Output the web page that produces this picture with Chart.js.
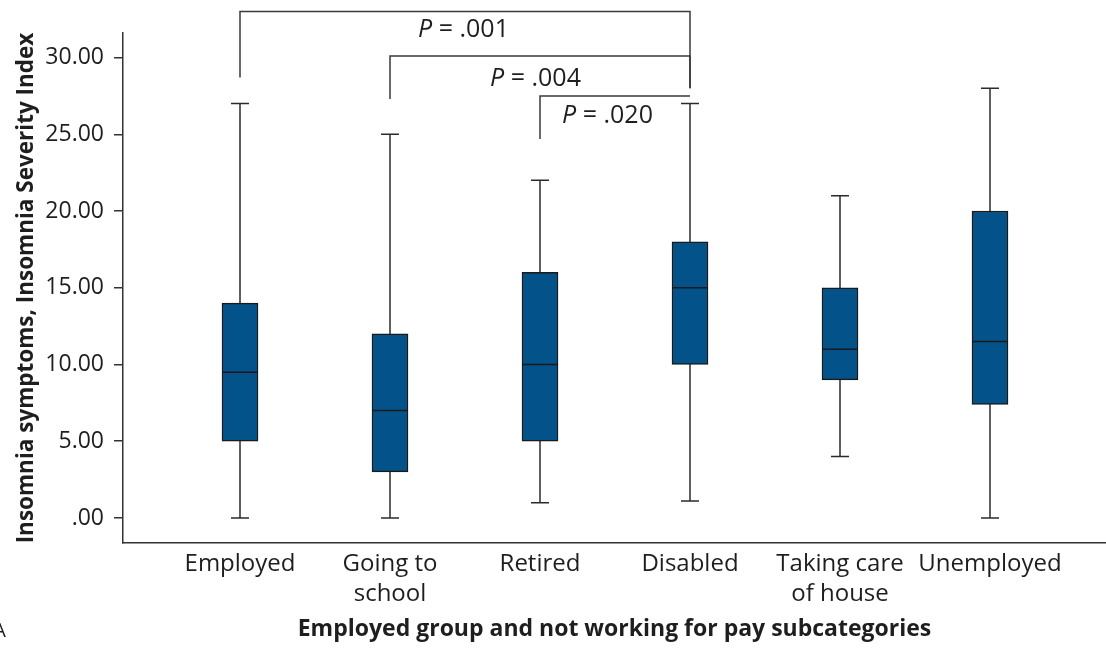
<!DOCTYPE html>
<html>
<head>
<meta charset="utf-8">
<script src="https://cdn.jsdelivr.net/npm/chart.js@4/dist/chart.umd.min.js"></script>
<style>
  html, body { margin: 0; padding: 0; background: #fff; }
  #wrap { width: 1106px; height: 648px; position: relative; }
</style>
</head>
<body>
<div id="wrap"><canvas id="box-chart"></canvas></div>
<script>
// data
const categories = [["Employed"], ["Going to", "school"], ["Retired"], ["Disabled"], ["Taking care", "of house"], ["Unemployed"]];
const whiskerLow = [0, 0, 1, 1.1, 4, 0];
const q1 = [5, 3, 5, 10, 9, 7.4];
const median = [9.5, 7, 10, 15, 11, 11.5];
const q3 = [14, 12, 16, 18, 15, 20];
const whiskerHigh = [27, 25, 22, 27, 21, 28];
const yTicks = [0, 5, 10, 15, 20, 25, 30];

// significance brackets (category numbers and heights in y units)
const pValues = [".001", ".004", ".020"];
const bracketFrom = [1, 2, 3];
const bracketTo = [4, 4, 4];
const bracketTop = [33, 30.1, 27.5];
const legFromBottom = [28.7, 27.3, 24.7];
const legToBottom = [28, 28, 27.5];
const pLabelX = [2.49, 2.97, 3.45];
const pLabelY = [31.8, 28.6, 26.2];

const FONT = "'Open Sans', 'Noto Sans', sans-serif";
Chart.defaults.font.family = FONT;
Chart.defaults.color = "#1e1e1e";

// whiskers + caps behind the boxes, medians on top
const boxPlotParts = {
  id: "boxPlotParts",
  beforeDatasetsDraw(chart) {
    const { ctx, scales: { x, y } } = chart;
    ctx.save();
    ctx.strokeStyle = "#2b2b2b";
    ctx.lineWidth = 1.5;
    for (let i = 0; i < categories.length; i++) {
      const cx = x.getPixelForValue(i + 1);
      const lo = y.getPixelForValue(whiskerLow[i]);
      const hi = y.getPixelForValue(whiskerHigh[i]);
      ctx.beginPath();
      ctx.moveTo(cx, lo); ctx.lineTo(cx, hi);
      ctx.moveTo(cx - 9, lo); ctx.lineTo(cx + 9, lo);
      ctx.moveTo(cx - 9, hi); ctx.lineTo(cx + 9, hi);
      ctx.stroke();
    }
    ctx.restore();
  },
  afterDatasetsDraw(chart) {
    const { ctx, scales: { y } } = chart;
    const meta = chart.getDatasetMeta(0);
    ctx.save();
    ctx.strokeStyle = "#1a1a1a";
    ctx.lineWidth = 1.5;
    meta.data.forEach((bar, i) => {
      const half = bar.width / 2;
      const my = y.getPixelForValue(median[i]);
      ctx.beginPath();
      ctx.moveTo(bar.x - half, my); ctx.lineTo(bar.x + half, my);
      ctx.stroke();
    });
    ctx.restore();
  }
};

// P-value brackets and the cut-off panel letter
const annotations = {
  id: "annotations",
  afterDraw(chart) {
    const { ctx, scales: { x, y } } = chart;
    ctx.save();
    ctx.strokeStyle = "#3a3a3a";
    ctx.lineWidth = 1.5;
    for (let i = 0; i < pValues.length; i++) {
      const x1 = x.getPixelForValue(bracketFrom[i]);
      const x2 = x.getPixelForValue(bracketTo[i]);
      const top = y.getPixelForValue(bracketTop[i]);
      ctx.beginPath();
      ctx.moveTo(x1, y.getPixelForValue(legFromBottom[i]));
      ctx.lineTo(x1, top);
      ctx.lineTo(x2, top);
      ctx.lineTo(x2, y.getPixelForValue(legToBottom[i]));
      ctx.stroke();

      // italic P, regular rest
      const px = x.getPixelForValue(pLabelX[i]);
      const py = y.getPixelForValue(pLabelY[i]);
      const italic = "italic 25px " + FONT;
      const normal = "25px " + FONT;
      ctx.font = italic;
      const wP = ctx.measureText("P").width;
      ctx.font = normal;
      const rest = " = " + pValues[i];
      const wR = ctx.measureText(rest).width;
      const sx = px - (wP + wR) / 2;
      ctx.fillStyle = "#1e1e1e";
      ctx.textBaseline = "middle";
      ctx.textAlign = "left";
      ctx.font = italic;
      ctx.fillText("P", sx, py);
      ctx.font = normal;
      ctx.fillText(rest, sx + wP, py);
    }
    ctx.font = "20px " + FONT;
    ctx.textAlign = "right";
    ctx.textBaseline = "alphabetic";
    ctx.fillText("A", 6, 637);
    ctx.restore();
  }
};

const ctx = document.getElementById("box-chart").getContext("2d");
new Chart(ctx, {
  type: "bar",
  data: {
    datasets: [{
      data: categories.map((c, i) => ({ x: i + 1, y: [q1[i], q3[i]] })),
      backgroundColor: "#03538a",
      borderColor: "#1a1a1a",
      borderWidth: 1.5,
      borderSkipped: false,
      barThickness: 36
    }]
  },
  options: {
    responsive: true,
    maintainAspectRatio: false,
    animation: false,
    layout: { padding: { top: 33, left: 0, right: 0, bottom: 0 } },
    plugins: { legend: { display: false }, tooltip: { enabled: false } },
    scales: {
      x: {
        type: "linear",
        offset: false,
        min: 0.22,
        max: 6.7733,
        afterBuildTicks: (s) => { s.ticks = categories.map((c, i) => ({ value: i + 1 })); },
        afterFit: (s) => { s.height = 105; },
        grid: { display: false, drawTicks: false, offset: false },
        border: { display: true, color: "#333", width: 1.5 },
        ticks: {
          autoSkip: false,
          maxRotation: 0,
          padding: 6,
          font: { size: 24, lineHeight: 1.25 },
          color: "#1e1e1e",
          callback: (v) => categories[Math.round(v) - 1]
        },
        title: {
          display: true,
          text: "Employed group and not working for pay subcategories",
          font: { size: 23, weight: "bold" },
          color: "#1e1e1e",
          padding: { top: 5, bottom: 5 }
        }
      },
      y: {
        min: -1.63,
        max: 31.6,
        afterBuildTicks: (s) => { s.ticks = yTicks.map((v) => ({ value: v })); },
        afterFit: (s) => { s.width = 123; },
        grid: { drawOnChartArea: false, drawTicks: true, tickLength: 9, color: "#333", lineWidth: 1.5 },
        border: { display: true, color: "#333", width: 1.5 },
        ticks: {
          padding: 10,
          font: { size: 23 },
          color: "#1e1e1e",
          callback: (v) => (v === 0 ? ".00" : v.toFixed(2))
        },
        title: {
          display: true,
          text: "Insomnia symptoms, Insomnia Severity Index",
          font: { size: 22.5, weight: "bold" },
          color: "#1e1e1e",
          padding: { top: 13, bottom: 13 }
        }
      }
    }
  },
  plugins: [boxPlotParts, annotations]
});
</script>
</body>
</html>
